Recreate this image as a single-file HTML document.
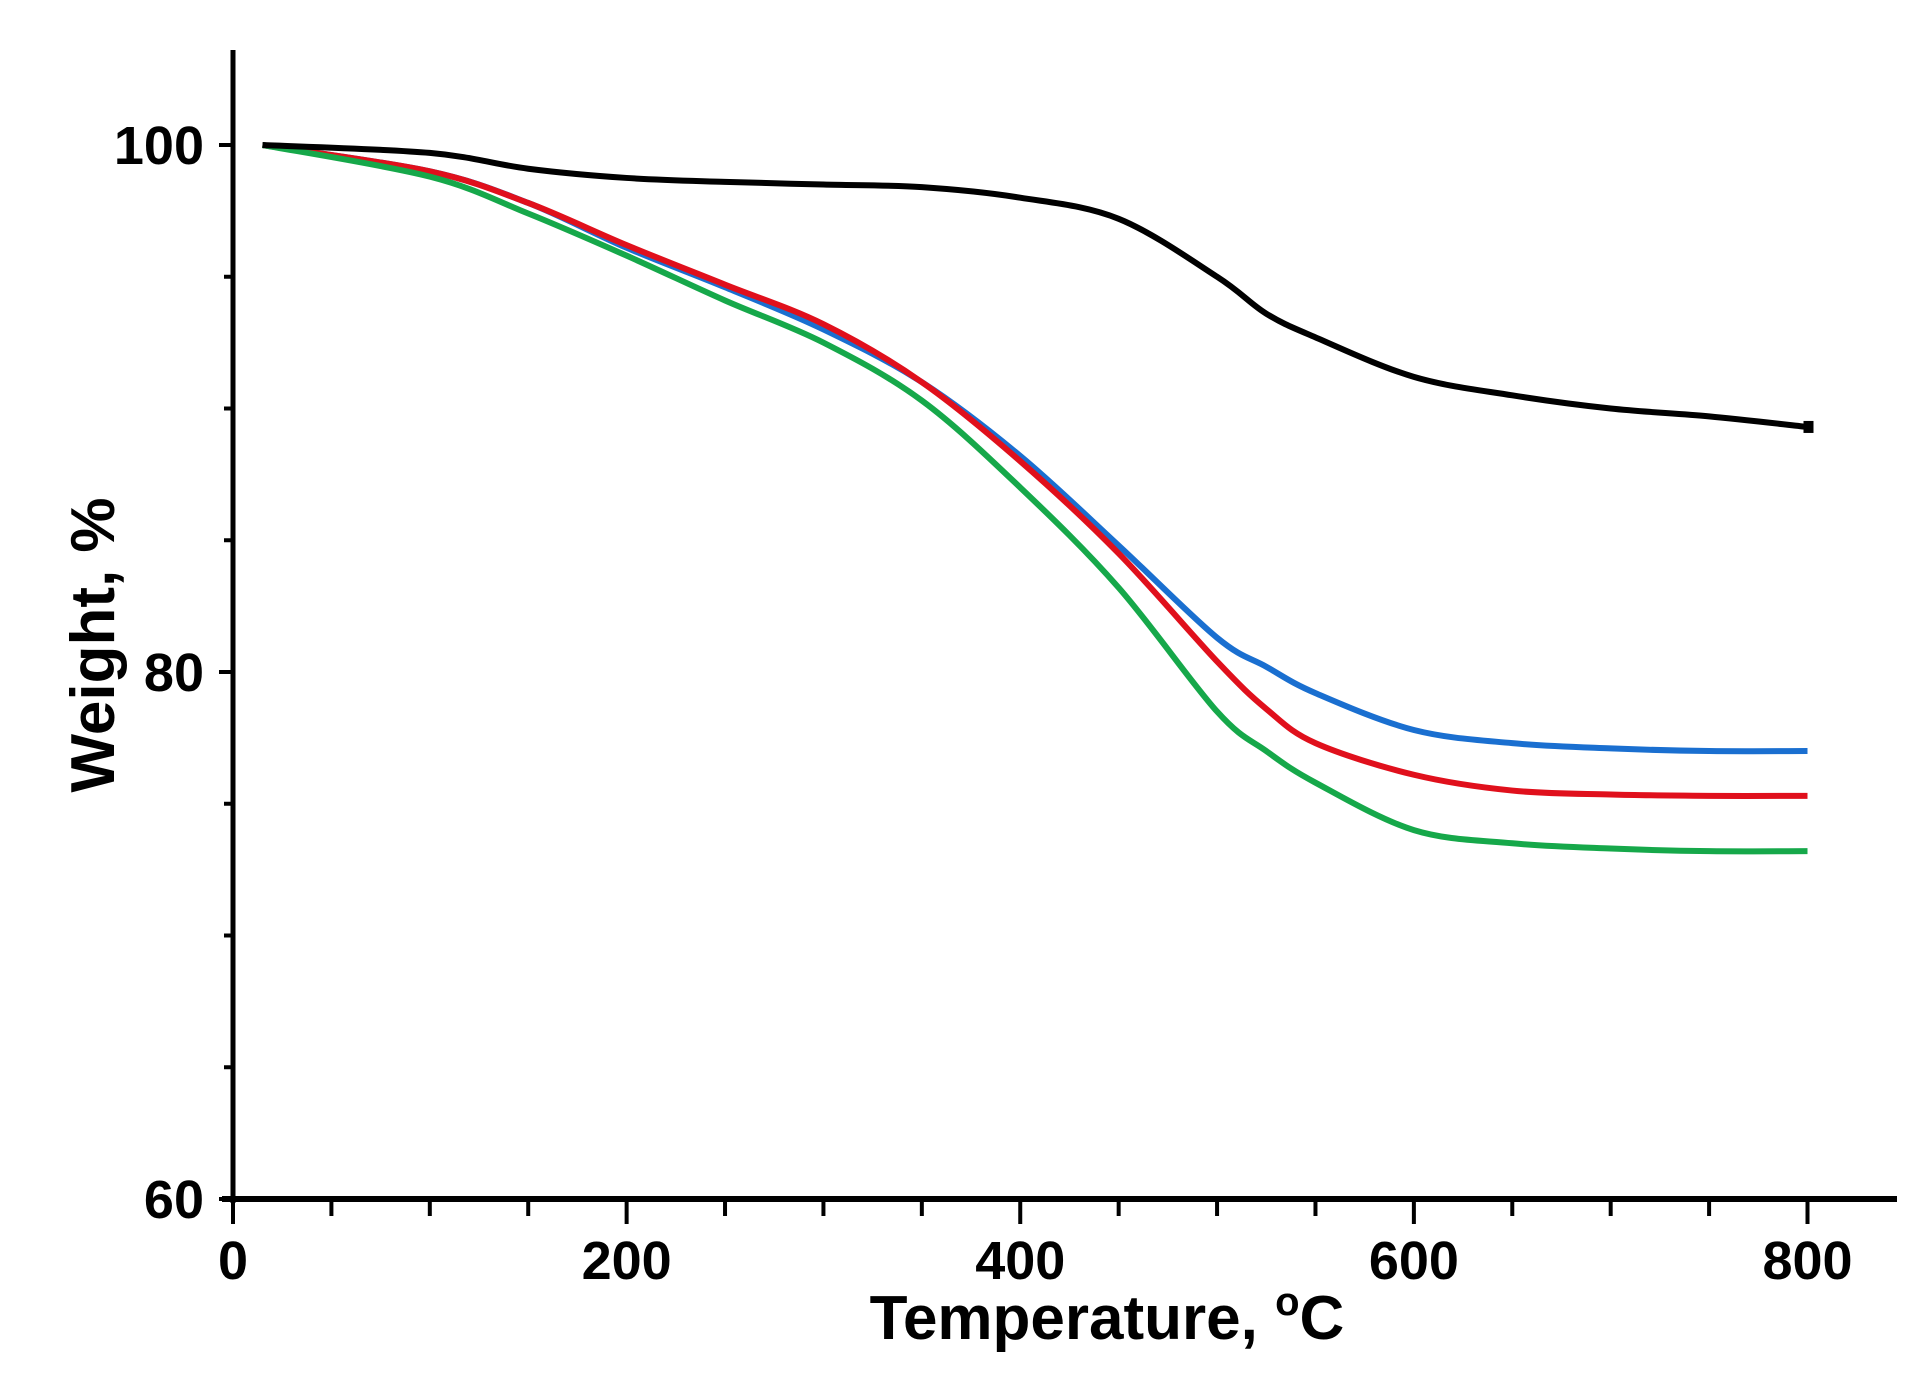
<!DOCTYPE html>
<html><head><meta charset="utf-8"><style>
html,body{margin:0;padding:0;background:#fff;}
svg{display:block;font-family:"Liberation Sans",Arial,sans-serif;font-weight:bold;}
</style></head><body>
<svg id="chart" width="1928" height="1381" viewBox="0 0 1928 1381" xmlns="http://www.w3.org/2000/svg"></svg>
<script>
const temps = [15,100,150,200,250,300,350,400,450,500,525,550,600,650,700,750,800];
const blackVals = [100,99.7,99.1,98.75,98.6,98.5,98.4,98.0,97.2,95.0,93.6,92.7,91.2,90.5,90.0,89.7,89.3];
const blueVals  = [100,99.0,97.8,96.1,94.6,93.0,91.0,88.2,84.8,81.3,80.2,79.2,77.8,77.3,77.1,77.0,77.0];
const redVals   = [100,99.0,97.8,96.2,94.7,93.2,91.0,88.0,84.5,80.4,78.6,77.3,76.1,75.5,75.35,75.3,75.3];
const greenVals = [100,98.8,97.4,95.8,94.1,92.5,90.3,87.0,83.2,78.5,77.0,75.8,74.0,73.5,73.3,73.2,73.2];
const xTicks = [0,200,400,600,800];
const yTicks = [60,80,100];

const svg = document.getElementById('chart');
const NS = 'http://www.w3.org/2000/svg';
const X = t => 233 + t * (1807.5 - 233) / 800;
const Y = v => 1199 - (v - 60) * (1199 - 145) / 40;
function mk(tag, attrs, parent){const e=document.createElementNS(NS,tag);for(const k in attrs)e.setAttribute(k,attrs[k]);(parent||svg).appendChild(e);return e;}

let a = mk('line',{x1:X(0),y1:50,x2:X(0),y2:1203,stroke:'#000','stroke-width':5});


a = mk('line',{x1:222,y1:Y(60),x2:1897,y2:Y(60),stroke:'#000','stroke-width':6});



for(let t=0;t<=800;t+=50){
  const major = t%200===0;
  const tk = mk('line',{x1:X(t),y1:Y(60),x2:X(t),y2:Y(60)+(major?25:17),stroke:'#000','stroke-width':4});
  
  
}
xTicks.forEach(t=>{
  const tx = mk('text',{x:X(t),y:1279,'text-anchor':'middle','font-size':54});
  tx.textContent = t;
  
  
});
for(let v=60;v<=100;v+=5){
  const major = v%20===0;
  const tk = mk('line',{x1:X(0)-(major?14:9),y1:Y(v),x2:X(0),y2:Y(v),stroke:'#000','stroke-width':4});
  
  
}
yTicks.forEach(v=>{
  const tx = mk('text',{x:204,y:Y(v)+19,'text-anchor':'end','font-size':54});
  tx.textContent = v;
  
  
});

let t = mk('text',{x:1107,y:1339,'text-anchor':'middle','font-size':62});
t.innerHTML = 'Temperature, <tspan font-size="40" dy="-24">o</tspan><tspan dy="24">C</tspan>';


t = mk('text',{x:0,y:0,'text-anchor':'middle','font-size':62,transform:'translate(114,645) rotate(-90)'});
t.textContent = 'Weight, %';



function pathFor(vals){
  const p = temps.map((tt,i)=>[X(tt),Y(vals[i])]);
  let d = 'M'+p[0][0]+','+p[0][1];
  for(let i=0;i<p.length-1;i++){
    const p0=p[Math.max(0,i-1)],p1=p[i],p2=p[i+1],p3=p[Math.min(p.length-1,i+2)];
    const c1=[p1[0]+(p2[0]-p0[0])/6,p1[1]+(p2[1]-p0[1])/6];
    const c2=[p2[0]-(p3[0]-p1[0])/6,p2[1]-(p3[1]-p1[1])/6];
    d+=' C'+c1[0]+','+c1[1]+' '+c2[0]+','+c2[1]+' '+p2[0]+','+p2[1];
  }
  return d;
}
const series = [['blue-series',blueVals,'#1a6fd0'],['red-series',redVals,'#e0101c'],['green-series',greenVals,'#16a84a'],['black-series',blackVals,'#000']];
series.forEach(s=>{
  const l = mk('path',{d:pathFor(s[1]),fill:'none',stroke:s[2],'stroke-width':6,'stroke-linejoin':'round'});
  
  
});
const m = mk('rect',{x:X(800)-4,y:Y(blackVals[blackVals.length-1])-6,width:10,height:12,fill:'#000'});


</script>
</body></html>
